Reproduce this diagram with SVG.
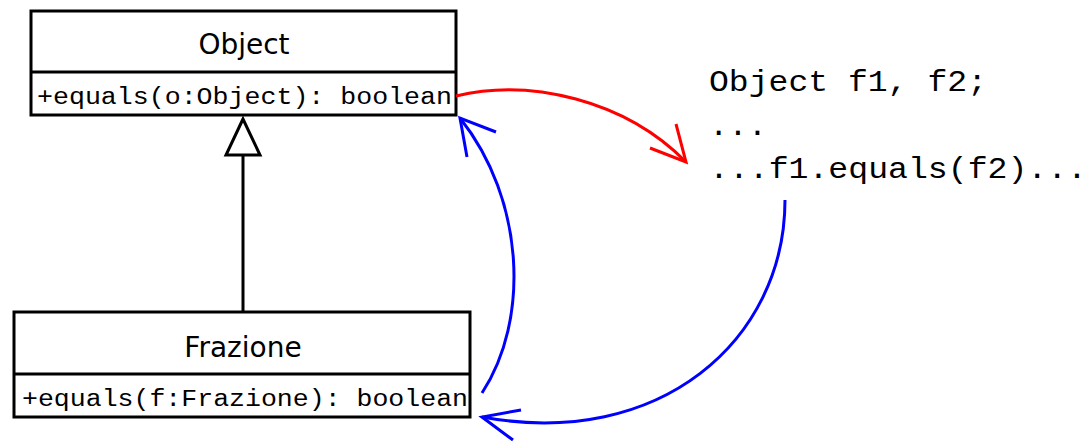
<svg xmlns="http://www.w3.org/2000/svg" width="1087" height="443" viewBox="0 0 1087 443">
  <style>
    .box { fill: #ffffff; stroke: #000000; stroke-width: 3; }
    .title { font-family: "DejaVu Sans", "Liberation Sans", sans-serif; font-size: 28px; fill: #000000; text-anchor: middle; }
    .method { font-family: "Liberation Mono", "DejaVu Sans Mono", monospace; font-size: 23px; fill: #000000; }
    .code { font-family: "Liberation Mono", "DejaVu Sans Mono", monospace; font-size: 30px; fill: #000000; }
    .call { fill: none; stroke-width: 3; }
  </style>
  <rect width="1087" height="443" fill="#ffffff"/>

  <!-- class Object -->
  <g id="object">
    <rect class="box" x="31" y="11" width="425" height="104"/>
    <line x1="31" y1="72" x2="456" y2="72" stroke="#000" stroke-width="3"/>
    <text class="title" x="244" y="54">Object</text>
    <text class="method" x="37" y="104" textLength="415" lengthAdjust="spacingAndGlyphs">+equals(o:Object): boolean</text>
  </g>

  <!-- class Frazione -->
  <g id="frazione">
    <rect class="box" x="14" y="312" width="456" height="105"/>
    <line x1="14" y1="374" x2="470" y2="374" stroke="#000" stroke-width="3"/>
    <text class="title" x="243" y="357">Frazione</text>
    <text class="method" x="22" y="406" textLength="446" lengthAdjust="spacingAndGlyphs">+equals(f:Frazione): boolean</text>
  </g>

  <!-- client code -->
  <g id="code">
    <text class="code" x="709" y="91" textLength="278" lengthAdjust="spacingAndGlyphs">Object f1, f2;</text>
    <text class="code" x="709" y="135" textLength="58" lengthAdjust="spacingAndGlyphs">...</text>
    <text class="code" x="709" y="178" textLength="378" lengthAdjust="spacingAndGlyphs">...f1.equals(f2)...</text>
  </g>

  <g id="connectors">
    <!-- generalization Frazione -> Object -->
    <line x1="243" y1="312" x2="243" y2="155" stroke="#000" stroke-width="3"/>
    <polygon points="243,119 226,155 260,155" fill="#ffffff" stroke="#000" stroke-width="3"/>

    <!-- static binding: call resolves to Object.equals -->
    <path class="call" stroke="#ff0000" d="M456,96 C530,78 625,100 686,162"/>
    <polyline class="call" stroke="#ff0000" points="650,148 686,162 676,124"/>

    <!-- Frazione.equals overrides Object.equals -->
    <path class="call" stroke="#0000ff" d="M482,393 C530,320 525,200 460,118"/>
    <polyline class="call" stroke="#0000ff" points="496,132 460,118 467,157"/>

    <!-- dynamic dispatch: call runs Frazione.equals -->
    <path class="call" stroke="#0000ff" d="M785,200 C785,340 660,450 482,417"/>
    <polyline class="call" stroke="#0000ff" points="513,440 482,417 521,410"/>
  </g>
</svg>
